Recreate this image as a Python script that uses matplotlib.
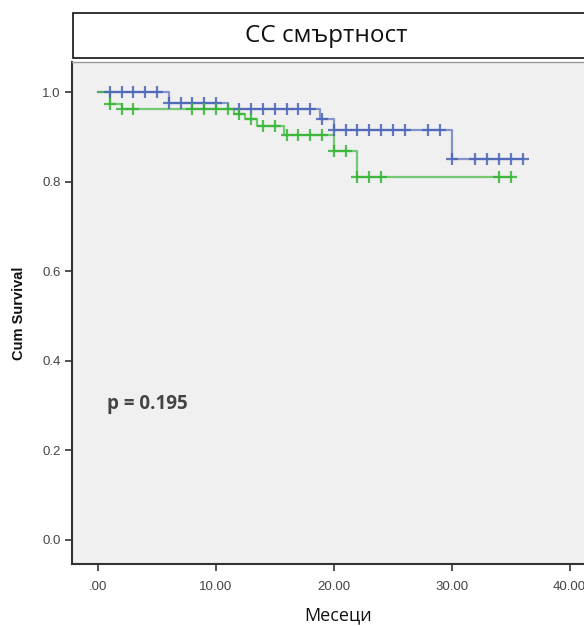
import numpy as np
import matplotlib
matplotlib.use("Agg")
import matplotlib.pyplot as plt
from matplotlib.patches import Rectangle

# Данни (отчетени от графиката)
blue_times = [0, 6, 11, 18.8, 20, 30]
blue_surv = [1.0, 0.975, 0.962, 0.939, 0.916, 0.851]
blue_end = 36
blue_cens = [1, 2, 3, 4, 5, 6, 7, 8, 9, 10, 12, 13, 14, 15, 16, 17, 18, 19,
             20, 21, 22, 23, 24, 25, 26, 28, 29, 30, 32, 33, 34, 35, 36]

green_times = [0, 1, 2, 11.5, 12.5, 13.5, 15.8, 20, 22]
green_surv = [1.0, 0.974, 0.962, 0.951, 0.939, 0.925, 0.903, 0.869, 0.810]
green_end = 35
green_cens = [1, 2, 3, 8, 9, 10, 11, 12, 13, 14, 15, 16, 17, 18, 19, 20, 21,
              22, 23, 24, 34, 35]

x_ticks = [0, 10, 20, 30, 40]
x_labels = [".00", "10.00", "20.00", "30.00", "40.00"]
y_ticks = [0.0, 0.2, 0.4, 0.6, 0.8, 1.0]
y_labels = ["0.0", "0.2", "0.4", "0.6", "0.8", "1.0"]

title = "CC смъртност"
x_title = "Месеци"
y_title = "Cum Survival"
p_text = "p = 0.195"

BLUE = "#4a63b8"
GREEN = "#33b533"


def surv_at(times, surv, t):
    idx = np.searchsorted(times, t, side="right") - 1
    return np.array(surv)[idx]


def draw_km(ax, times, surv, end, cens, color):
    xs = list(times) + [end]
    ys = list(surv) + [surv[-1]]
    ax.step(xs, ys, where="post", color=color, lw=1.6, alpha=0.65, zorder=3)
    cy = [surv_at(times, surv, c) for c in cens]
    ax.plot(cens, cy, ls="none", marker="+", ms=9, mew=1.6,
            color=color, alpha=0.85, zorder=4)


fig = plt.figure(figsize=(5.84, 6.26), dpi=100)
ax = fig.add_axes([72 / 584, 62 / 626, 1.02 - 72 / 584, (564 - 62) / 626])
ax.set_facecolor("#f0f0f0")

draw_km(ax, blue_times, blue_surv, blue_end, blue_cens, BLUE)
draw_km(ax, green_times, green_surv, green_end, green_cens, GREEN)

ax.set_xlim(-2.2, 42.2)
ax.set_ylim(-0.054, 1.067)
ax.set_xticks(x_ticks)
ax.set_xticklabels(x_labels)
ax.set_yticks(y_ticks)
ax.set_yticklabels(y_labels)
ax.tick_params(direction="out", length=5, width=1.2, color="#333333",
               labelsize=9.5, labelcolor="#444444", pad=3)
for lbl in ax.get_xticklabels() + ax.get_yticklabels():
    lbl.set_family("Liberation Sans")
ax.tick_params(axis="x", pad=7)
for s in ["left", "bottom"]:
    ax.spines[s].set_color("#333333")
    ax.spines[s].set_linewidth(1.5)
for s in ["top", "right"]:
    ax.spines[s].set_color("#9a9a9a")
    ax.spines[s].set_linewidth(1.0)

ax.set_ylabel(y_title, fontsize=10.5, fontweight="bold", family="Liberation Sans",
              color="#111111", labelpad=12)
fig.text(338 / 584, (626 - 615) / 626, x_title, fontsize=13, family="Open Sans",
         color="#111111", ha="center", va="center")

ax.text(0.8, 0.304, p_text, fontsize=13.5, fontweight="bold", family="Open Sans",
        color="#444444", va="center", ha="left")

# Рамка със заглавие
box = Rectangle((73 / 584, (626 - 58) / 626), 1.0, 45 / 626,
                transform=fig.transFigure, facecolor="white",
                edgecolor="#111111", lw=1.2, clip_on=False)
fig.patches.append(box)
fig.text(326 / 584, (626 - 36) / 626, title, fontsize=17.5, family="Open Sans",
         ha="center", va="center", color="#111111")

fig.savefig("out.png", dpi=100)
